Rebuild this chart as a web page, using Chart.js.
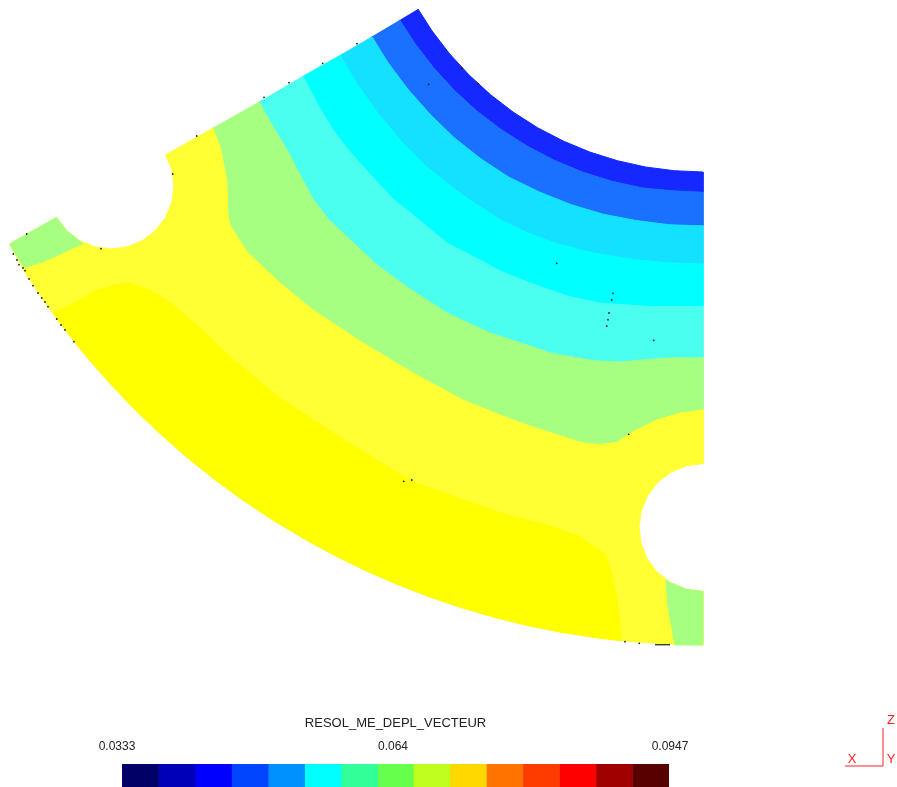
<!DOCTYPE html>
<html>
<head>
<meta charset="utf-8">
<title>RESOL_ME_DEPL_VECTEUR</title>
<script src="https://cdn.jsdelivr.net/npm/chart.js"></script>
<style>
  html, body { margin: 0; padding: 0; background: #fff; }
  #wrap { position: relative; width: 897px; height: 787px; overflow: hidden; }
  canvas { position: absolute; left: 0; }
</style>
</head>
<body>
<div id="wrap">
  <canvas id="field" width="897" height="787" style="top:0"></canvas>
  <canvas id="scale" width="897" height="87" style="top:700px"></canvas>
</div>
<script>
// outline of the part, picture units
const innerArc = [[418,9],[432.1,31],[449.7,53.9],[469.2,75.1],[490.4,94.6],[513.3,112.2],[537.6,127.7],[563.2,141],[589.9,152.1],[617.4,160.7],[645.6,167],[674.2,170.7],[703,172]];
const outerArc = [[703,644.8],[668,644],[633,641.7],[598.1,637.9],[563.5,632.6],[529.1,625.8],[495,617.4],[461.4,607.6],[428.2,596.3],[395.5,583.6],[363.4,569.5],[332,554],[301.3,537.1],[271.3,519],[242.1,499.5],[213.9,478.8],[186.5,456.8],[160.2,433.7],[134.8,409.5],[110.6,384.1],[87.5,357.8],[65.5,330.4],[44.8,302.2],[25.3,273],[9.5,244]];
const rightHole = [[703,463.5],[686.4,465.7],[671,472.1],[657.7,482.2],[647.6,495.5],[641.2,510.9],[639,527.5],[641.2,544.1],[647.6,559.5],[657.7,572.8],[671,582.9],[686.4,589.3],[703,591.5]];
const leftHole = [[56.4,217.5],[66.5,230.5],[79.5,240.6],[94.7,246.9],[111,249],[127.3,246.9],[142.5,240.6],[155.5,230.5],[165.6,217.5],[171.9,202.3],[174,186],[171.9,169.7],[165.6,154.5]];

// iso lines, from the straight top edge to the right edge
const iso1 = [[399.7,19.9],[414.7,43.2],[433.4,67.6],[454.1,90.2],[476.7,110.9],[501.1,129.6],[527,146.1],[554.2,160.3],[582.6,172.1],[611.9,181.3],[641.9,187.9],[672.3,190.8],[703,192.3]];
const iso2 = [[371.8,36.4],[387.6,62.1],[407.7,89.1],[430.1,114.2],[454.2,137.8],[480.7,158.7],[509,177.3],[539.4,192],[570.8,204.5],[603.1,214.2],[636.1,220.5],[669.4,224.8],[703,225.8]];
const iso3 = [[340,55],[356.9,83.6],[378.2,113.8],[402.1,142.2],[428.5,168.4],[463.7,196.1],[501.4,220.5],[528.5,233.2],[556.6,243.5],[592.7,252.8],[629.4,258.9],[666.1,262.7],[703,264]];
const iso4 = [[302.7,76],[318,105],[333,130],[350,152],[367,171],[393,199],[413,215],[447,243],[480,260],[500,271],[530,283],[567,296],[600,303],[650,306.5],[703,306.5]];
const iso5 = [[259,101.7],[272,125],[287,150],[300,175],[313,199],[328,219],[343,233],[377,265],[407,287],[447,313],[490,333],[530,346],[550,353],[593,360.7],[620,362],[667,358],[703,357.7]];
const iso6 = [[212.7,127.7],[220,146.7],[226.7,180],[228,215],[230,225],[247,252],[280,283],[313,310],[363,343],[413,373],[463,400],[500,415],[530,426],[583,443],[600,444.7],[616.7,442.3],[633,431.7],[656.7,420],[680,413],[703,410]];
const iso7 = [[53,313.5],[66,307],[80,300],[96.7,290],[113,285.5],[130,282.7],[153,291.7],[173,305],[197,325],[230,356.7],[280,398],[330,431],[380,462],[413,481.7],[463,500],[513,516.7],[546.7,525],[580,537],[605,554],[610,566.7],[616.7,596.7],[621.7,640.7]];
const deepArc = [[598.1,637.9],[563.5,632.6],[529.1,625.8],[495,617.4],[461.4,607.6],[428.2,596.3],[395.5,583.6],[363.4,569.5],[332,554],[301.3,537.1],[271.3,519],[242.1,499.5],[213.9,478.8],[186.5,456.8],[160.2,433.7],[134.8,409.5],[110.6,384.1],[87.5,357.8],[65.5,330.4]];

// the two separate green patches
const patchLeft = [[83,244],[66.5,230.5],[56.4,217.5],[9.5,244],[24,267.3],[43,261.7],[63,253]];
const patchRight = [[666,580],[668,607],[675,645],[703,645],[703,591.5],[686.4,589.3],[671,582.9]];

// mesh specks
const specks = [[13.3,254],[17,260],[19,264.7],[23,268],[25,270.7],[29,279],[33,285.7],[38,293],[41.7,298],[45,302],[48,306.7],[56.7,319],[61,325],[65,330],[74,341.7],[101,248.7],[26.7,234],[264,97.3],[289,82.7],[322.7,63.3],[357,43.7],[428.7,84.3],[461.7,68.3],[478.3,84],[556.7,263.3],[613,293.3],[611.7,300],[609,313],[608,319.7],[606.7,326],[653.7,340.3],[628.7,434.3],[172.7,174],[196.7,136],[403.7,481.3],[411.7,480],[625,641.7],[639.3,643.3]];
const speckDash = [[655,644.7],[670,644.7]];

// triad
const triadLine = [[845,766],[883,766],[883,728]];
const triadNames = ['X', 'Y', 'Z'];
const triadSpots = [[852,759],[891,759],[891,720]];

const fieldColors = ['#1428ff','#1a70ff','#14e0ff','#00ffff','#4affee','#a6ff80','#ffff33','#ffff00'];

// colour bar
const barTitle = 'RESOL_ME_DEPL_VECTEUR';
const barTickSpots = [0.03274, 0.06372, 0.09481];
const barTickLabels = ['0.0333', '0.064', '0.0947'];
const barLevels = [0.0333,0.0374,0.0415,0.0456,0.0497,0.0538,0.0579,0.0620,0.0660,0.0701,0.0742,0.0783,0.0824,0.0865,0.0906,0.0947];
const barColors = ['#000066','#0000b8','#0000ff','#0044ff','#0090ff','#00ffff','#33ff99','#66ff4c','#bfff1f','#ffd800','#ff7300','#ff3c00','#ff0000','#a00000','#580000'];

function pts(list){
  return list.map(p => ({x: p[0], y: p[1]}));
}

function band(points, color, order){
  return {
    data: pts(points),
    showLine: true,
    fill: 'shape',
    tension: 0,
    pointRadius: 0,
    borderWidth: 1,
    borderColor: color,
    backgroundColor: color,
    order: order
  };
}

const rev = a => a.slice().reverse();

const lowerBand = iso6.concat(rightHole, [[703,645]], outerArc, leftHole);

const fieldData = [
  band(innerArc.concat(rev(iso1)), fieldColors[0], 20),
  band(iso1.concat(rev(iso2)), fieldColors[1], 19),
  band(iso2.concat(rev(iso3)), fieldColors[2], 18),
  band(iso3.concat(rev(iso4)), fieldColors[3], 17),
  band(iso4.concat(rev(iso5)), fieldColors[4], 16),
  band(iso5.concat(rev(iso6)), fieldColors[5], 15),
  band(lowerBand, fieldColors[6], 14),
  band(iso7.concat(deepArc), fieldColors[7], 13),
  band(patchLeft, fieldColors[5], 12),
  band(patchRight, fieldColors[5], 11),
  {data: pts(specks), pointRadius: 0.9, pointBackgroundColor: '#222', pointBorderWidth: 0, order: 3},
  {data: pts(speckDash), showLine: true, pointRadius: 0, borderColor: '#444', borderWidth: 1.5, order: 2},
  {data: pts(triadLine), showLine: true, pointRadius: 0, borderColor: '#ff2020', borderWidth: 1, tension: 0, order: 1}
];

// writes X Y Z next to the triad
const triadText = {
  id: 'triadText',
  afterDatasetsDraw(chart){
    const c = chart.ctx;
    c.save();
    c.fillStyle = '#ff2020';
    c.font = '13px "Liberation Sans"';
    c.textAlign = 'center';
    c.textBaseline = 'middle';
    triadNames.forEach((name, i) => {
      c.fillText(name, chart.scales.x.getPixelForValue(triadSpots[i][0]), chart.scales.y.getPixelForValue(triadSpots[i][1]));
    });
    c.restore();
  }
};

new Chart(document.getElementById('field'), {
  type: 'scatter',
  data: {datasets: fieldData},
  plugins: [triadText],
  options: {
    responsive: false,
    animation: false,
    events: [],
    layout: {padding: 0, autoPadding: false},
    plugins: {legend: {display: false}, tooltip: {enabled: false}},
    scales: {
      x: {display: false, min: 0, max: 897},
      y: {display: false, min: 0, max: 787, reverse: true}
    }
  }
});

new Chart(document.getElementById('scale'), {
  type: 'bar',
  data: {
    labels: [''],
    datasets: barColors.map((color, i) => ({
      data: [[barLevels[i], barLevels[i + 1]]],
      backgroundColor: color,
      borderWidth: 0,
      barPercentage: 1,
      categoryPercentage: 1
    }))
  },
  options: {
    indexAxis: 'y',
    responsive: false,
    animation: false,
    events: [],
    layout: {padding: {left: 122, right: 228, top: 0, bottom: 0}, autoPadding: false},
    plugins: {
      legend: {display: false},
      tooltip: {enabled: false},
      title: {
        display: true,
        text: barTitle,
        color: '#222',
        font: {family: '"Liberation Sans"', size: 13, weight: 'normal'},
        padding: {top: 16, bottom: 6}
      }
    },
    scales: {
      x: {
        position: 'top',
        min: barLevels[0],
        max: barLevels[15],
        grid: {display: false},
        border: {display: false},
        afterBuildTicks(axis){ axis.ticks = barTickSpots.map(v => ({value: v})); },
        ticks: {
          autoSkip: false,
          maxRotation: 0,
          padding: 2,
          color: '#222',
          font: {family: '"Liberation Sans"', size: 12},
          callback: (v, i) => barTickLabels[i]
        }
      },
      y: {display: false, stacked: true}
    }
  }
});
</script>
</body>
</html>
